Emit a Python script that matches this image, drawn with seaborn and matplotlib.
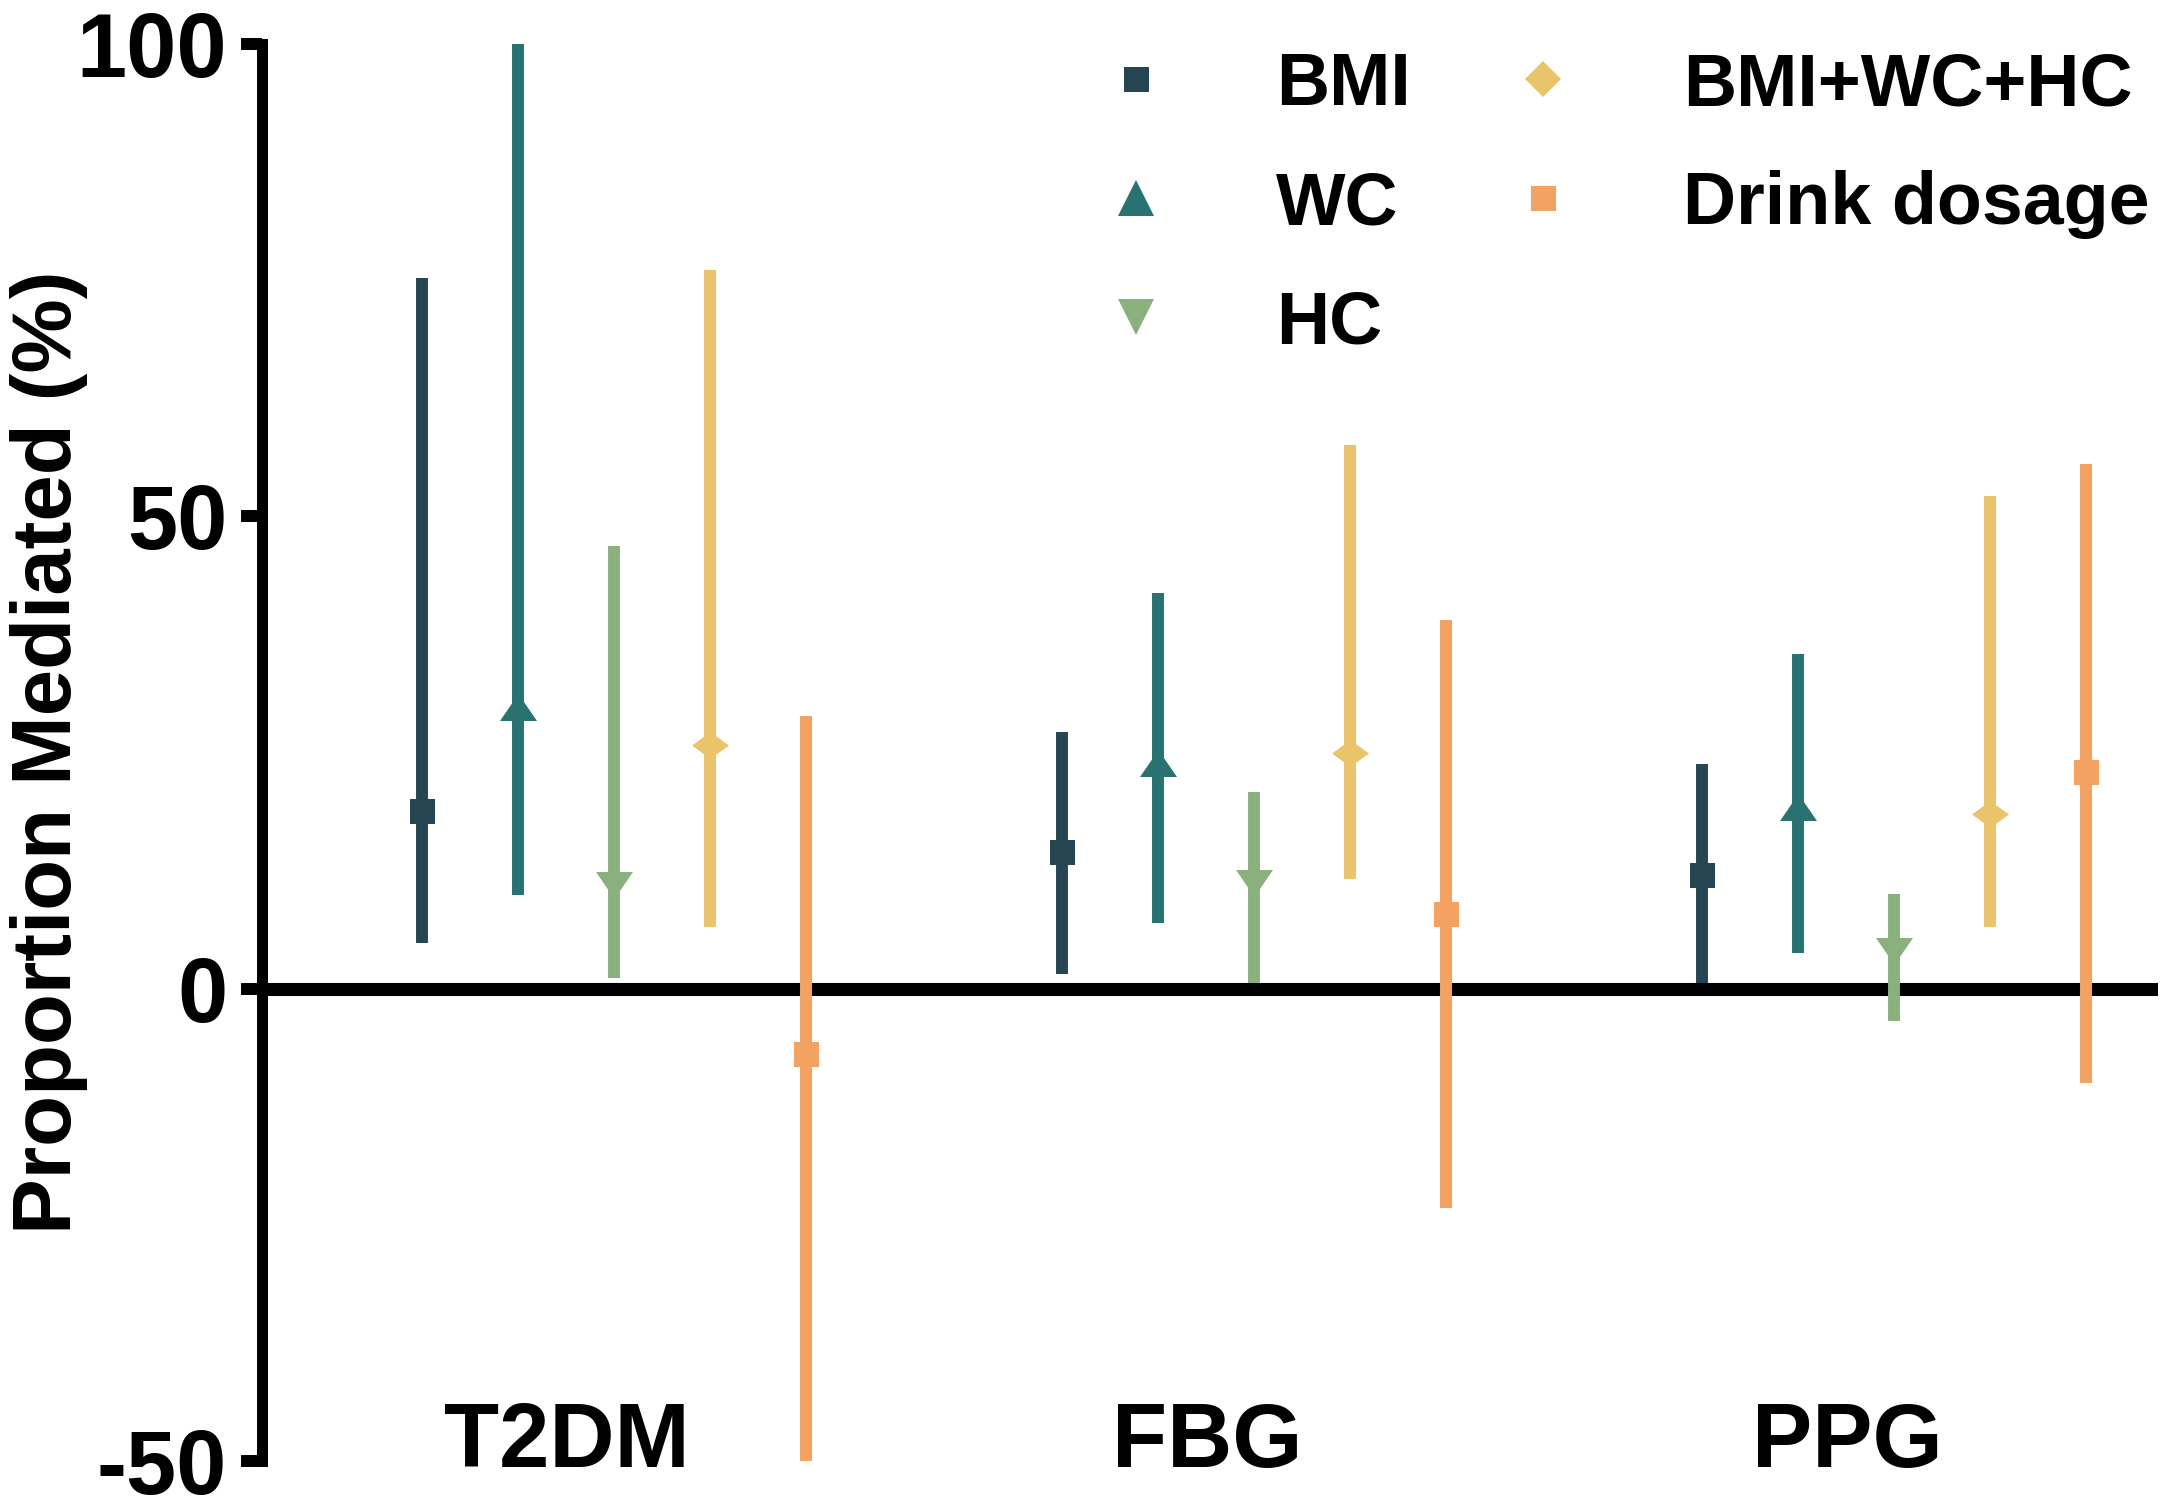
import numpy as np
import pandas as pd
import matplotlib
matplotlib.use("Agg")
import matplotlib.pyplot as plt
from matplotlib.path import Path
from matplotlib.lines import Line2D
import seaborn as sns

# ---------------- data ----------------
outcomes = ["T2DM", "FBG", "PPG"]
mediators = ["BMI", "WC", "HC", "BMI+WC+HC", "Drink dosage"]

bmi_est = [18.8, 14.5, 12.0]
bmi_lo = [4.8, 1.6, 0.6]
bmi_hi = [75.2, 27.2, 23.8]

wc_est = [29.8, 23.9, 19.2]
wc_lo = [9.9, 6.9, 3.8]
wc_hi = [100.0, 41.9, 35.4]

hc_est = [11.0, 11.2, 4.0]
hc_lo = [1.1, 0.6, -3.4]
hc_hi = [46.9, 20.8, 10.0]

comb_est = [25.8, 25.0, 18.5]
comb_lo = [6.5, 11.6, 6.5]
comb_hi = [76.1, 57.5, 52.2]

drink_est = [-6.9, 7.9, 22.9]
drink_lo = [-50.0, -23.2, -10.0]
drink_hi = [28.9, 39.0, 55.5]

yticks = [-50, 0, 50, 100]

colors = ["#264653", "#287271", "#8AB17D", "#E9C46A", "#F4A261"]

series = {
    "BMI": (bmi_lo, bmi_est, bmi_hi),
    "WC": (wc_lo, wc_est, wc_hi),
    "HC": (hc_lo, hc_est, hc_hi),
    "BMI+WC+HC": (comb_lo, comb_est, comb_hi),
    "Drink dosage": (drink_lo, drink_est, drink_hi),
}

rows = []
for med in mediators:
    lo, est, hi = series[med]
    for i, oc in enumerate(outcomes):
        for v in (lo[i], est[i], hi[i]):
            rows.append({"Outcome": oc, "Mediator": med, "Value": v})
df = pd.DataFrame(rows)

# ---------------- style ----------------
sns.set_style("white")
plt.rcParams["font.family"] = ["Liberation Sans", "DejaVu Sans"]
plt.rcParams["font.weight"] = "bold"
plt.rcParams["axes.labelweight"] = "bold"
plt.rcParams["text.color"] = "black"
plt.rcParams["axes.labelcolor"] = "black"
plt.rcParams["xtick.color"] = "black"
plt.rcParams["ytick.color"] = "black"
plt.rcParams["xtick.labelcolor"] = "black"
plt.rcParams["ytick.labelcolor"] = "black"

W, H = 2169, 1508
fig = plt.figure(figsize=(W / 100, H / 100), dpi=100)
ax_left, ax_right, ax_top, ax_bot = 262, 2158, 44, 1461
ax = fig.add_axes([ax_left / W, 1 - ax_bot / H, (ax_right - ax_left) / W, (ax_bot - ax_top) / H])

tri_up = Path([(-1, -0.73), (1, -0.73), (0, 0.73), (-1, -0.73)], closed=True)
tri_dn = Path([(-1, 0.73), (1, 0.73), (0, -0.73), (-1, 0.73)], closed=True)
diam = Path([(-1, 0), (0, 0.73), (1, 0), (0, -0.73), (-1, 0)], closed=True)
plot_markers = ["s", tri_up, tri_dn, diam, "s"]

ax.axhline(0, color="black", linewidth=9.4, zorder=1)

sns.pointplot(
    data=df, x="Outcome", y="Value", hue="Mediator",
    order=outcomes, hue_order=mediators,
    palette=dict(zip(mediators, colors)),
    estimator="median", errorbar=("pi", 100),
    dodge=0.6, markers=plot_markers, linestyle="none",
    markersize=26.6, markeredgewidth=0,
    err_kws={"linewidth": 8.6, "linestyle": "-", "solid_capstyle": "butt"},
    legend=False, ax=ax,
)

for ln in ax.lines:
    if isinstance(ln.get_marker(), str) and ln.get_marker() == "s":
        ln.set_markersize(18)
    ln.set_zorder(3)

# ---------------- axes ----------------
ax.set_ylim(-50, 100)
ax.set_xlim(-0.55, 2.4125)
ax.set_yticks(yticks)
ax.set_yticklabels([str(t) for t in yticks])
ax.set_xticks([i - 0.073 for i in range(len(outcomes))])
ax.set_xticklabels(outcomes)
ax.set_xlabel("")
ax.set_ylabel("Proportion Mediated (%)", fontsize=60, fontweight="bold", color="black")
ax.yaxis.set_label_coords((88 - ax_left) / (ax_right - ax_left), 0.5)

for s in ["top", "right", "bottom"]:
    ax.spines[s].set_visible(False)
ax.spines["left"].set_linewidth(7.9)
ax.spines["left"].set_color("black")
ax.spines["left"].set_capstyle("projecting")

ax.tick_params(axis="y", direction="out", length=15, width=8.6, pad=10,
               labelsize=65, color="black", labelcolor="black", left=True)
ax.tick_params(axis="x", length=0, pad=4, labelsize=65, labelcolor="black")
for t in ax.get_xticklabels():
    t.set_verticalalignment("baseline")
    t.set_fontweight("bold")
for t in ax.get_yticklabels():
    t.set_fontweight("bold")

# ---------------- legend ----------------
handles = [
    Line2D([], [], marker="s", markersize=18, color=colors[0], linestyle="none", markeredgewidth=0),
    Line2D([], [], marker="^", markersize=26.6, color=colors[1], linestyle="none", markeredgewidth=0),
    Line2D([], [], marker="v", markersize=26.6, color=colors[2], linestyle="none", markeredgewidth=0),
    Line2D([], [], marker="D", markersize=18.8, color=colors[3], linestyle="none", markeredgewidth=0),
    Line2D([], [], marker="s", markersize=18, color=colors[4], linestyle="none", markeredgewidth=0),
]
leg = fig.legend(handles, mediators, ncol=2, loc="upper left",
                 bbox_to_anchor=(1099.5 / W, 1 - 51 / H), bbox_transform=fig.transFigure,
                 frameon=False, prop={"size": 53, "weight": "bold"},
                 handlelength=1.0, handletextpad=1.4, columnspacing=1.3,
                 labelspacing=0.68, borderpad=0, borderaxespad=0)
for t in leg.get_texts():
    t.set_color("black")

fig.savefig("out.png", dpi=100)
